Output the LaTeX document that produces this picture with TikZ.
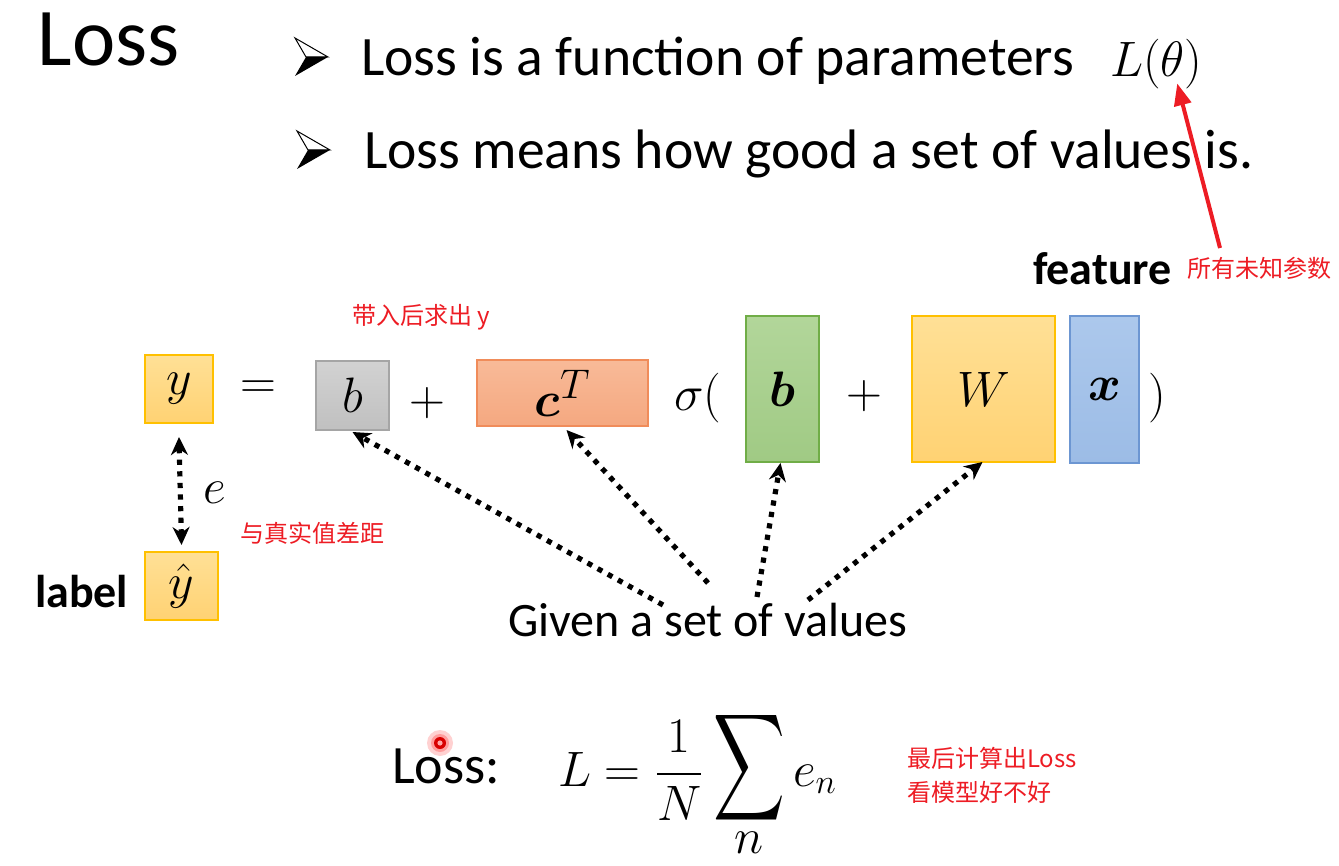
\documentclass[tikz,border=0pt]{standalone}
\usepackage{amsmath,bm}
\usepackage{fontspec}
\setmainfont{Carlito}
\newfontfamily\cjk{Noto Sans CJK SC}
\usetikzlibrary{arrows.meta,calc}
\definecolor{redtxt}{RGB}{237,28,36}
\definecolor{ambT}{RGB}{255,224,150}
\definecolor{ambB}{RGB}{255,210,115}
\definecolor{ambD}{RGB}{255,192,0}
\definecolor{grayT}{RGB}{210,210,210}
\definecolor{grayB}{RGB}{192,192,192}
\definecolor{grayD}{RGB}{165,165,165}
\definecolor{salT}{RGB}{248,186,152}
\definecolor{salB}{RGB}{245,168,128}
\definecolor{salD}{RGB}{240,140,90}
\definecolor{grnT}{RGB}{178,214,154}
\definecolor{grnB}{RGB}{160,202,132}
\definecolor{grnD}{RGB}{112,173,71}
\definecolor{bluT}{RGB}{172,200,236}
\definecolor{bluB}{RGB}{156,188,230}
\definecolor{bluD}{RGB}{108,150,210}
\tikzset{
  txt/.style={inner sep=0pt, outer sep=0pt},
  bulfont/.style={txt, font=\fontsize{27.8}{33}\selectfont},
  boldf/.style={txt, font=\fontsize{23}{28}\selectfont\bfseries},
  redf/.style={txt, text=redtxt, font=\cjk\fontsize{12}{15}\selectfont},
  mth/.style={txt, font=\fontsize{28}{34}\selectfont},
  fml/.style={txt, font=\fontsize{24}{29}\selectfont},
  box/.style={txt, draw, line width=0.8pt, font=\fontsize{30}{36}\selectfont},
  ambbox/.style={box, top color=ambT, bottom color=ambB, draw=ambD},
  graybox/.style={box, top color=grayT, bottom color=grayB, draw=grayD},
  salbox/.style={box, top color=salT, bottom color=salB, draw=salD},
  grnbox/.style={box, top color=grnT, bottom color=grnB, draw=grnD},
  blubox/.style={box, top color=bluT, bottom color=bluB, draw=bluD},
  dotarrow/.style={line width=2.6pt, dash pattern=on 2.6pt off 3.2pt, -{Stealth[length=9pt,width=8.5pt]}},
  redarrow/.style={line width=2pt, draw=redtxt, -{Triangle[length=11pt,width=8.5pt]}},
  bul/.pic={
    \draw[line width=0.5pt, line join=miter] (0,0) -- (33,19) -- (11,19) -- cycle;
    \fill (11,19) -- (33,19) -- (0,38) -- cycle;
  }
}
\begin{document}
\begin{tikzpicture}[x=0.5pt,y=-0.5pt]
\useasboundingbox (0,0) rectangle (1339,866);

% title and bullets
\node[txt, anchor=base west, font=\fontsize{41}{48}\selectfont] (title) at (38,66) {Loss};
\pic at (295,38) {bul};
\pic at (297,131) {bul};
\node[bulfont, anchor=base west] (b1) at (361,76) {Loss is a function of parameters};
\node[mth, anchor=base west] (Lt) at (1110,77) {$L(\theta)$};
\node[bulfont, anchor=base west] (b2) at (364,169) {Loss means how good a set of values is.};

% red annotation arrow
\coordinate (rtail) at (1220,248);
\draw[redarrow] (rtail) -- ([xshift=10.5pt,yshift=3pt]Lt.south);
\node[boldf, anchor=base west] (feat) at (1033,285) {feature};
\node[redf, anchor=west] (unk) at (1187,268) {所有未知参数};
\node[redf, anchor=west] (dairu) at (352,317) {带入后求出 y};

% equation row
\node[ambbox, minimum width=34pt, minimum height=34pt] (y) at (179,389) {$y$};
\node[mth] (eq) at (258,390) {$=$};
\node[graybox, minimum width=36.5pt, minimum height=34.5pt] (bg) at (352.5,395.5) {$b$};
\node[mth] (p1) at (427,403) {$+$};
\node[salbox, minimum width=85.5pt, minimum height=33pt] (ct) at (562.5,393) {$\boldsymbol{c}^{T}$};
\node[mth, anchor=base west] (sig) at (674,410) {$\sigma($};
\node[grnbox, minimum width=36.5pt, minimum height=73pt] (gb) at (782.5,389) {$\boldsymbol{b}$};
\node[mth] (p2) at (864,396) {$+$};
\node[ambbox, minimum width=71.5pt, minimum height=73pt] (W) at (983.5,389) {$W$};
\node[blubox, minimum width=34.5pt, minimum height=73.5pt] (xb) at (1104.5,389.5) {$\boldsymbol{x}$};
\node[mth, anchor=base west] (cp) at (1148,410) {$)$};

% label and error
\node[ambbox, minimum width=36.5pt, minimum height=34pt] (yh) at (181.5,586) {$\hat{y}$};
\node[boldf, anchor=base west] (lab) at (35,607) {label};
\draw[dotarrow, {Stealth[length=9pt,width=8.5pt]}-{Stealth[length=9pt,width=8.5pt]}] ([yshift=-7pt]y.south) -- ([yshift=3.5pt]yh.north);
\node[mth, anchor=base west] (e) at (203,503) {$e$};
\node[redf, anchor=west] (gap) at (240,533) {与真实值差距};

% given a set of values
\node[txt, anchor=base west, font=\fontsize{24}{29}\selectfont] (given) at (508,636) {Given a set of values};
\coordinate (g1) at (663,605);
\coordinate (g2) at (708,583);
\coordinate (g3) at (757,597);
\coordinate (g4) at (808,600);
\draw[dotarrow] (g1) -- ([yshift=-1pt]bg.south);
\draw[dotarrow] (g2) -- ([xshift=2pt,yshift=-2pt]ct.south);
\draw[dotarrow] (g3) -- ([xshift=-1pt,yshift=-0.5pt]gb.south);
\draw[dotarrow] (g4) -- ([xshift=-0.5pt]W.south);

% loss formula
\node[txt, anchor=base west, font=\fontsize{27}{32}\selectfont] (lossl) at (392,783) {Loss:};
\coordinate (laser) at (440,743);
\fill[red, opacity=0.18] (laser) circle (6.5pt);
\fill[red, opacity=0.25] (laser) circle (4.5pt);
\fill[red!85!black] (laser) circle (3pt);
\fill[red!35!white] (laser) circle (1.3pt);
\node[fml, anchor=base west] (fL) at (558,786) {$L=\dfrac{1}{N}$};
\node[fml] (sum) at (749.5,768) {\scalebox{1}[1.5]{$\displaystyle\sum$}};
\node[fml, anchor=base] (sn) at (749.5,853) {$n$};
\node[fml, anchor=base west] (en) at (793,786) {$e_n$};
\node[redf, anchor=west] (r1) at (907,758) {最后计算出Loss};
\node[redf, anchor=west] (r2) at (907,792) {看模型好不好};
\end{tikzpicture}
\end{document}
